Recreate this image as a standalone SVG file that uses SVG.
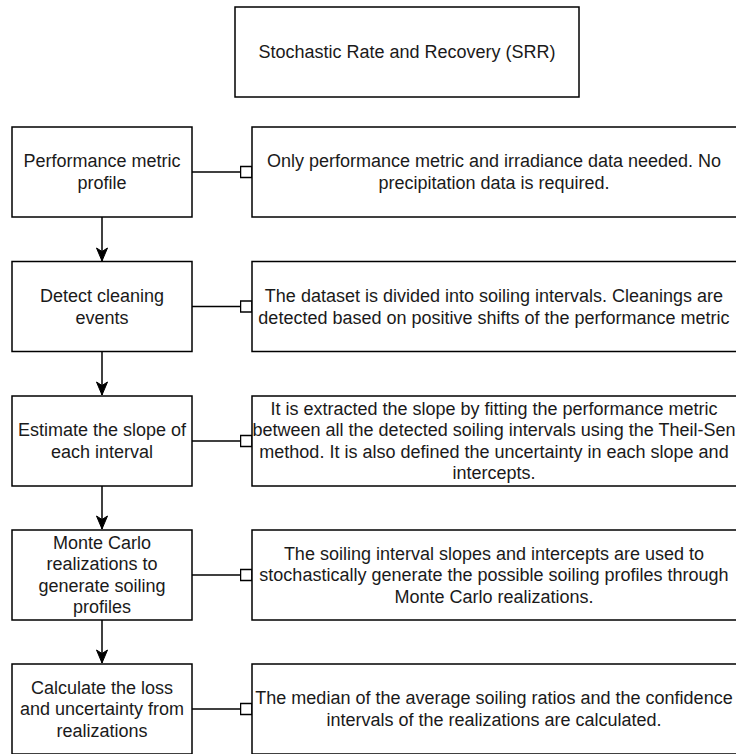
<svg xmlns="http://www.w3.org/2000/svg" width="736" height="754" viewBox="0 0 736 754">
<defs>
<style>
.box{fill:#fff;stroke:#000;stroke-width:1.5}
.t{font-family:"Liberation Sans",Arial,sans-serif;font-size:18px;fill:#1a1a1a;text-anchor:middle}
.ln{fill:none;stroke:#000;stroke-width:1.5}
</style>
<marker id="arr" markerUnits="userSpaceOnUse" markerWidth="16" markerHeight="16" viewBox="0 0 16 16" refX="14" refY="8" orient="auto">
<path d="M14,8 L1,2.5 L4.5,8 L1,13.5 Z" fill="#000" stroke="#000" stroke-width="1"/>
</marker>
<marker id="sq" markerUnits="userSpaceOnUse" markerWidth="14" markerHeight="14" viewBox="0 0 14 14" refX="12.5" refY="7" orient="auto">
<rect x="1" y="1.5" width="11.5" height="11" fill="#fff" stroke="#000" stroke-width="1.5"/>
</marker>
</defs>
<rect width="736" height="754" fill="#fff"/>

<g id="connectors">
<path class="ln" d="M102,217 V261" marker-end="url(#arr)"/>
<path class="ln" d="M102,351.5 V395" marker-end="url(#arr)"/>
<path class="ln" d="M102,486 V529" marker-end="url(#arr)"/>
<path class="ln" d="M102,620 V663" marker-end="url(#arr)"/>
<path class="ln" d="M192,172 H252" marker-end="url(#sq)"/>
<path class="ln" d="M192,306.5 H252" marker-end="url(#sq)"/>
<path class="ln" d="M192,441 H252" marker-end="url(#sq)"/>
<path class="ln" d="M192,575 H252" marker-end="url(#sq)"/>
<path class="ln" d="M192,709 H252" marker-end="url(#sq)"/>
</g>

<g id="title">
<rect class="box" x="235" y="7" width="344" height="90"/>
<text class="t" x="407" y="58.2">Stochastic Rate and Recovery (SRR)</text>
</g>

<g id="n1">
<rect class="box" x="12" y="127" width="180" height="90"/>
<text class="t" x="102" y="167.4">Performance metric</text>
<text class="t" x="102" y="189">profile</text>
</g>
<g id="d1">
<rect class="box" x="252" y="127" width="490" height="90"/>
<text class="t" x="494" y="167.4">Only performance metric and irradiance data needed. No</text>
<text class="t" x="494" y="189">precipitation data is required.</text>
</g>

<g id="n2">
<rect class="box" x="12" y="261.5" width="180" height="90"/>
<text class="t" x="102" y="301.9">Detect cleaning</text>
<text class="t" x="102" y="323.5">events</text>
</g>
<g id="d2">
<rect class="box" x="252" y="261.5" width="490" height="90"/>
<text class="t" x="494" y="301.9">The dataset is divided into soiling intervals. Cleanings are</text>
<text class="t" x="494" y="323.5">detected based on positive shifts of the performance metric</text>
</g>

<g id="n3">
<rect class="box" x="12" y="396" width="180" height="90"/>
<text class="t" x="102" y="436.4">Estimate the slope of</text>
<text class="t" x="102" y="458">each interval</text>
</g>
<g id="d3">
<rect class="box" x="252" y="396" width="490" height="90"/>
<text class="t" x="494" y="414.6">It is extracted the slope by fitting the performance metric</text>
<text class="t" x="494" y="436.2">between all the detected soiling intervals using the Theil-Sen</text>
<text class="t" x="494" y="457.8">method. It is also defined the uncertainty in each slope and</text>
<text class="t" x="494" y="479.4">intercepts.</text>
</g>

<g id="n4">
<rect class="box" x="12" y="530" width="180" height="90"/>
<text class="t" x="102" y="548.6">Monte Carlo</text>
<text class="t" x="102" y="570.2">realizations to</text>
<text class="t" x="102" y="591.8">generate soiling</text>
<text class="t" x="102" y="613.4">profiles</text>
</g>
<g id="d4">
<rect class="box" x="252" y="530" width="490" height="90"/>
<text class="t" x="494" y="559.6">The soiling interval slopes and intercepts are used to</text>
<text class="t" x="494" y="581.2">stochastically generate the possible soiling profiles through</text>
<text class="t" x="494" y="602.8">Monte Carlo realizations.</text>
</g>

<g id="n5">
<rect class="box" x="12" y="664" width="180" height="90"/>
<text class="t" x="102" y="693.6">Calculate the loss</text>
<text class="t" x="102" y="715.2">and uncertainty from</text>
<text class="t" x="102" y="736.8">realizations</text>
</g>
<g id="d5">
<rect class="box" x="252" y="664" width="490" height="90"/>
<text class="t" x="494" y="704.4">The median of the average soiling ratios and the confidence</text>
<text class="t" x="494" y="726">intervals of the realizations are calculated.</text>
</g>
</svg>
